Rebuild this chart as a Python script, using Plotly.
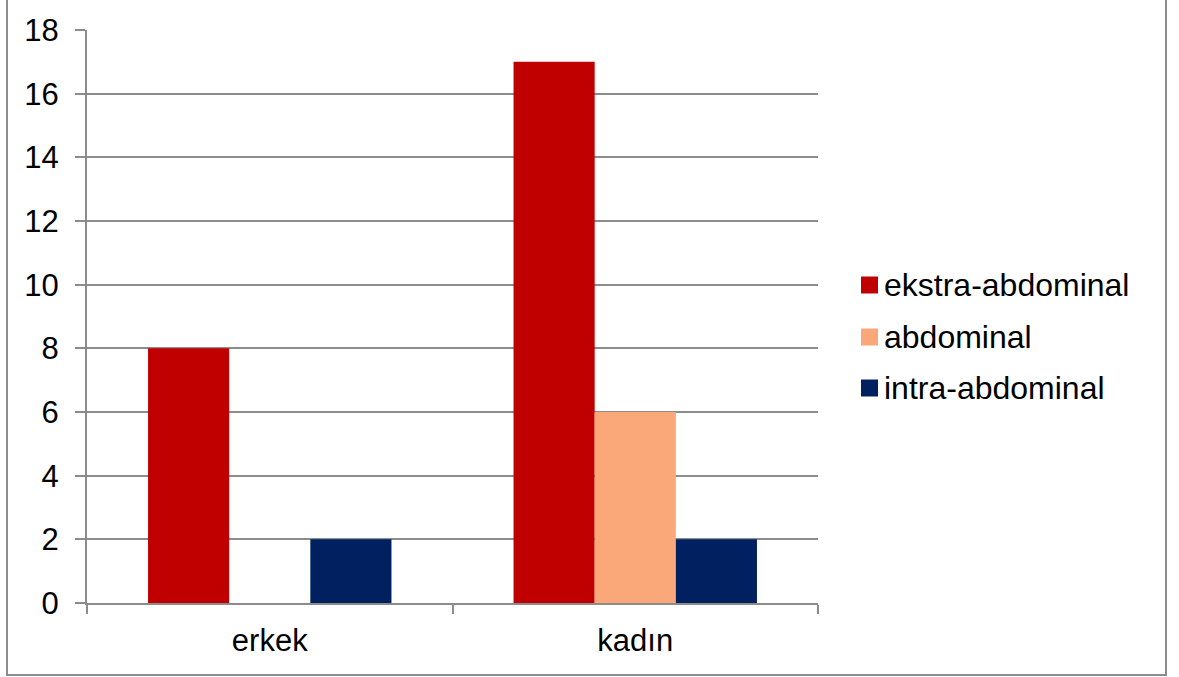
import plotly.graph_objects as go

# Chart data
categories = ["erkek", "kadın"]
series_names = ["ekstra-abdominal", "abdominal", "intra-abdominal"]
ekstra_abdominal = [8, 17]
abdominal = [0, 6]
intra_abdominal = [2, 2]
y_ticks = [0, 2, 4, 6, 8, 10, 12, 14, 16, 18]

colors = ["#C00000", "#FAA77A", "#002060"]
series_values = [ekstra_abdominal, abdominal, intra_abdominal]

W, H = 1179, 677
L, R, T, B = 87, 361, 30, 74
plot_w = W - L - R
plot_h = H - T - B

fig = go.Figure()
for name, vals, col in zip(series_names, series_values, colors):
    fig.add_trace(go.Bar(name=name, x=categories, y=vals, marker_color=col,
                         marker_line_width=0, showlegend=False))

family = "Liberation Sans, Arial, sans-serif"
tick_font = dict(family=family, size=31, color="#000000")
legend_font = dict(family=family, size=32, color="#000000")
grid_col = "#8c8c8c"

fig.update_layout(
    width=W, height=H,
    margin=dict(l=L, r=R, t=T, b=B, pad=0),
    paper_bgcolor="#ffffff", plot_bgcolor="#ffffff",
    barmode="group", bargap=0.334, bargroupgap=0,
    font=tick_font,
    showlegend=False,
)
fig.update_xaxes(
    type="category", tickson="boundaries", ticks="outside", ticklen=9,
    tickwidth=2, tickcolor=grid_col, showline=True, linecolor=grid_col,
    linewidth=2, showgrid=False, tickfont=tick_font, ticklabelstandoff=9,
)
fig.update_yaxes(
    range=[0, 18], tickvals=y_ticks, ticks="outside", ticklen=10,
    tickwidth=2, tickcolor=grid_col, showline=True, linecolor=grid_col,
    linewidth=2, showgrid=True, gridcolor=grid_col, gridwidth=2,
    zeroline=False, tickfont=tick_font, ticklabelstandoff=10,
)

def px_x(px):
    return (px - L) / plot_w

def px_y(py):
    return (H - B - py) / plot_h

# Outer chart border
fig.add_shape(type="rect", xref="paper", yref="paper",
              x0=px_x(7), x1=px_x(1166), y0=px_y(675), y1=px_y(-4),
              line=dict(color="#8c8c8c", width=2), fillcolor="rgba(0,0,0,0)",
              layer="below")

# Legend drawn as swatches with labels
legend_y = [285, 337, 388]
for name, col, cy in zip(series_names, colors, legend_y):
    fig.add_shape(type="rect", xref="paper", yref="paper",
                  x0=px_x(861), x1=px_x(878), y0=px_y(cy + 8.5), y1=px_y(cy - 8.5),
                  line=dict(width=0), fillcolor=col)
    fig.add_annotation(xref="paper", yref="paper", x=px_x(882), y=px_y(cy),
                       text=name, showarrow=False, xanchor="left", yanchor="middle",
                       font=legend_font)

fig.write_html("out.html")
